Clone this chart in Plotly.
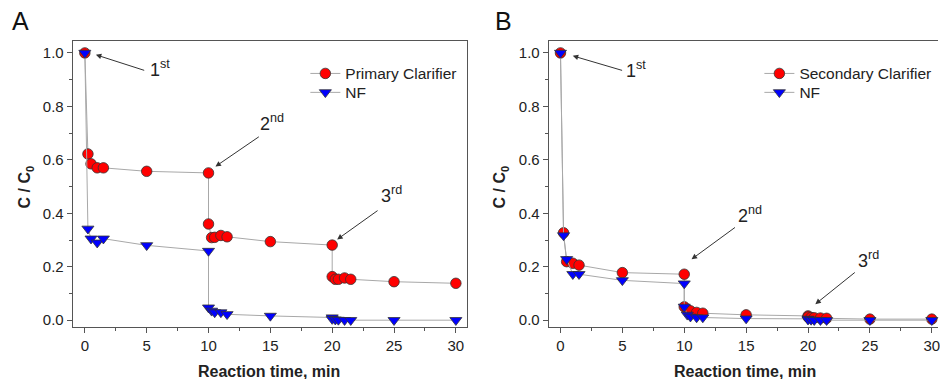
import plotly.graph_objects as go

# ---------------- data ----------------
time_min = [0, 0.25, 0.5, 1, 1.5, 5, 10, 10, 10.25, 10.5, 11, 11.5, 15,
            20, 20, 20.25, 20.5, 21, 21.5, 25, 30]

primary_clarifier = [1.0, 0.622, 0.585, 0.570, 0.570, 0.557, 0.551, 0.360, 0.309,
                     0.310, 0.317, 0.312, 0.294, 0.281, 0.163, 0.153, 0.153, 0.158,
                     0.153, 0.144, 0.138]
nf_a = [1.0, 0.342, 0.305, 0.290, 0.305, 0.280, 0.259, 0.047, 0.035, 0.029, 0.029,
        0.022, 0.016, 0.010, 0.004, 0.002, 0.001, 0.0, 0.0, 0.0, 0.0]

secondary_clarifier = [1.0, 0.327, 0.219, 0.213, 0.206, 0.178, 0.172, 0.050, 0.040,
                       0.035, 0.029, 0.026, 0.020, 0.016, 0.012, 0.010, 0.009, 0.008,
                       0.007, 0.004, 0.004]
nf_b = [1.0, 0.317, 0.228, 0.172, 0.172, 0.149, 0.137, 0.050, 0.020, 0.013, 0.010,
        0.010, 0.006, 0.005, 0.002, 0.001, 0.0, 0.0, 0.0, 0.0, 0.0]

x_ticks = [0, 5, 10, 15, 20, 25, 30]
y_ticks = [0.0, 0.2, 0.4, 0.6, 0.8, 1.0]

# ---------------- style ----------------
W, H = 940, 379
FONT = "Liberation Sans, Arial, sans-serif"
AX = "#555555"
LINE = "#a8a8a8"
RED = "#ff0000"
BLUE = "#0000ff"
EDGE = "#333333"

fig = go.Figure()

def add_series(x, y, name, color, symbol, xa, ya, legend):
    fig.add_trace(go.Scatter(
        x=x, y=y, name=name, mode="lines+markers", xaxis=xa, yaxis=ya,
        legend=legend, cliponaxis=False,
        line=dict(color=LINE, width=1),
        marker=dict(color=color, symbol=symbol, size=10.5,
                    line=dict(color=EDGE, width=0.8)),
    ))

add_series(time_min, primary_clarifier, "Primary Clarifier", RED, "circle", "x", "y", "legend")
add_series(time_min, nf_a, "NF", BLUE, "triangle-down", "x", "y", "legend2")
add_series(time_min, secondary_clarifier, "Secondary Clarifier", RED, "circle", "x2", "y2", "legend3")
add_series(time_min, nf_b, "NF", BLUE, "triangle-down", "x2", "y2", "legend4")

tickfont = dict(family=FONT, size=15, color="#222222")

def xaxis(domain, rng, anchor):
    return dict(domain=domain, range=rng, anchor=anchor, tickvals=x_ticks,
                showline=True, linecolor=AX, linewidth=1.3, mirror=True,
                ticks="outside", ticklen=5, tickwidth=1.2, tickcolor=AX,
                showgrid=False, zeroline=False, tickfont=tickfont,
                ticklabeloverflow="allow",
                minor=dict(ticks="outside", ticklen=3, dtick=2.5, tick0=0,
                           tickcolor=AX, tickwidth=1, showgrid=False))

def yaxis(domain, anchor, mirror):
    return dict(domain=domain, range=[-0.026, 1.045], anchor=anchor, tickvals=y_ticks,
                tickformat=".1f",
                showline=True, linecolor=AX, linewidth=1.3, mirror=mirror,
                ticks="outside", ticklen=5, tickwidth=1.2, tickcolor=AX,
                showgrid=False, zeroline=False, tickfont=tickfont,
                minor=dict(ticks="outside", ticklen=3, dtick=0.1, tick0=0,
                           tickcolor=AX, tickwidth=1, showgrid=False))

def legend_at(x_px, top_px):
    return dict(x=x_px / W, y=1 - top_px / H, xanchor="left", yanchor="top",
                font=dict(family=FONT, size=15.5, color="#222222"),
                bgcolor="rgba(0,0,0,0)", tracegroupgap=0, itemwidth=30)

ydom = [1 - 328 / H, 1 - 41 / H]
fig.update_layout(
    width=W, height=H, margin=dict(l=0, r=0, t=0, b=0),
    paper_bgcolor="white", plot_bgcolor="white",
    xaxis=xaxis([73 / W, 468 / W], [-0.97, 30.9], "y"),
    yaxis=yaxis(ydom, "x", True),
    xaxis2=xaxis([550 / W, 1.0], [-0.94, 30.5], "y2"),
    yaxis2=yaxis(ydom, "x2", False),
    legend=legend_at(306, 57),
    legend2=legend_at(306, 76),
    legend3=legend_at(761, 57),
    legend4=legend_at(761, 76),
    showlegend=True,
)

# panel letters, axis titles
ann = []
def paper_text(text, xp, yp, size, angle=0, color="#222222"):
    ann.append(dict(text=text, x=xp / W, y=1 - yp / H, xref="paper", yref="paper",
                    xanchor="center", yanchor="middle", textangle=angle,
                    showarrow=False, font=dict(family=FONT, size=size, color=color)))

paper_text("A", 21, 21, 25, color="#111111")
paper_text("B", 505, 21, 25, color="#111111")
for xc in (26, 502):
    paper_text("<b>C / C<sub>0</sub></b>", xc, 187, 16, angle=-90)
for xc in (270, 747):
    paper_text("<b>Reaction time, min</b>", xc, 372, 16)

# arrows (head, tail) and labels in data coordinates
arrows = [
    ("x", "y", "1<sup>st</sup>", (0.89, 0.993), (4.92, 0.933), (6.05, 0.940)),
    ("x", "y", "2<sup>nd</sup>", (10.56, 0.575), (14.19, 0.690), (15.16, 0.739)),
    ("x", "y", "3<sup>rd</sup>", (20.4, 0.302), (23.79, 0.414), (24.76, 0.470)),
    ("x2", "y2", "1<sup>st</sup>", (0.99, 0.989), (5.10, 0.933), (6.07, 0.937)),
    ("x2", "y2", "2<sup>nd</sup>", (10.59, 0.228), (14.22, 0.351), (15.35, 0.396)),
    ("x2", "y2", "3<sup>rd</sup>", (20.59, 0.060), (23.9, 0.183), (24.86, 0.228)),
]
for xr, yr, label, head, tail, tpos in arrows:
    ann.append(dict(text="", x=head[0], y=head[1], ax=tail[0], ay=tail[1],
                    xref=xr, yref=yr, axref=xr, ayref=yr, showarrow=True,
                    arrowhead=2, arrowsize=1.1, arrowwidth=1, arrowcolor="#333333"))
    ann.append(dict(text=label, x=tpos[0], y=tpos[1], xref=xr, yref=yr,
                    xanchor="center", yanchor="middle",
                    showarrow=False, font=dict(family=FONT, size=18, color="#222222")))

fig.update_layout(annotations=ann)
fig.write_html("out.html")
